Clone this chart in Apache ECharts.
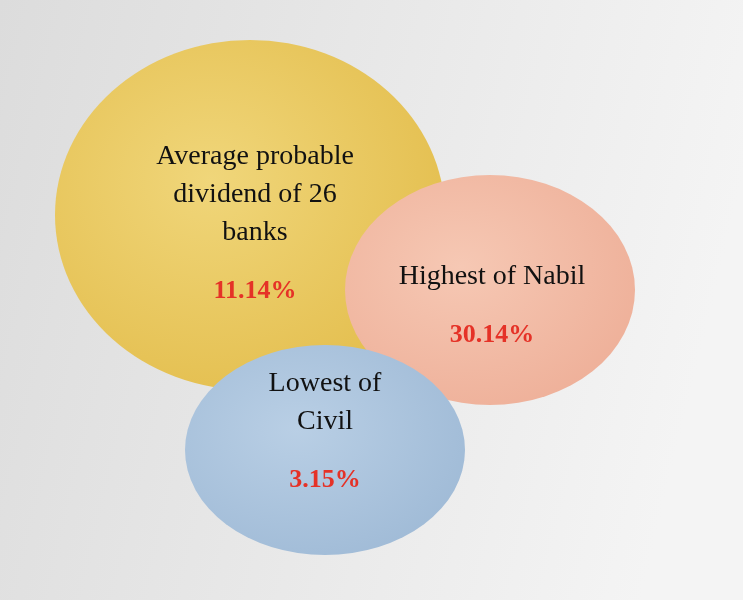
<!DOCTYPE html>
<html><head><meta charset="utf-8">
<script src="https://cdn.jsdelivr.net/npm/echarts@6/dist/echarts.min.js"></script>
<style>html,body{margin:0;padding:0}#c{width:743px;height:600px}</style>
</head><body><div id="c"></div>
<script>
const names = ['Average probable\ndividend of 26\nbanks', 'Highest of Nabil', 'Lowest of\nCivil'];
const values = ['11.14%', '30.14%', '3.15%'];
const centerX = [250, 490, 325];
const centerY = [215, 290, 450];
const sizes = [[390, 350], [290, 230], [280, 210]];
const colors = [
  ['#f0d67a', '#e3bd4c'],
  ['#f6c8b4', '#eeaf98'],
  ['#b9cfe5', '#9fbad6']
];
const labelOffsets = [[5, 7], [2, 14], [0, -20]];

const chart = echarts.init(document.getElementById('c'));
chart.setOption({
  backgroundColor: {type:'linear', x:0, y:0, x2:1, y2:0.3, colorStops:[{offset:0,color:'#dcdcdc'},{offset:1,color:'#f4f4f4'}]},
  grid: {left:0, right:0, top:0, bottom:0},
  xAxis: {type:'value', min:0, max:743, show:false},
  yAxis: {type:'value', min:0, max:600, inverse:true, show:false},
  series: names.map((n, i) => ({
    type: 'scatter',
    z: i + 1,
    symbol: 'circle',
    symbolSize: sizes[i],
    data: [{value:[centerX[i], centerY[i]], name:n}],
    itemStyle: {
      opacity: 1,
      color: {type:'radial', x:0.4, y:0.4, r:0.7, colorStops:[{offset:0,color:colors[i][0]},{offset:1,color:colors[i][1]}]}
    },
    label: {
      show: true,
      position: 'inside',
      offset: labelOffsets[i],
      formatter: () => '{n|' + n.split('\n').join('}\n{n|') + '}\n{g|}\n{v|' + values[i] + '}',
      rich: {
        n: {fontFamily:'Liberation Serif', fontSize:28, color:'#111', lineHeight:38, align:'center'},
        g: {height:24},
        v: {fontFamily:'Liberation Serif', fontSize:26, fontWeight:'bold', color:'#e53227', lineHeight:30, align:'center'}
      }
    }
  }))
});
</script></body></html>
